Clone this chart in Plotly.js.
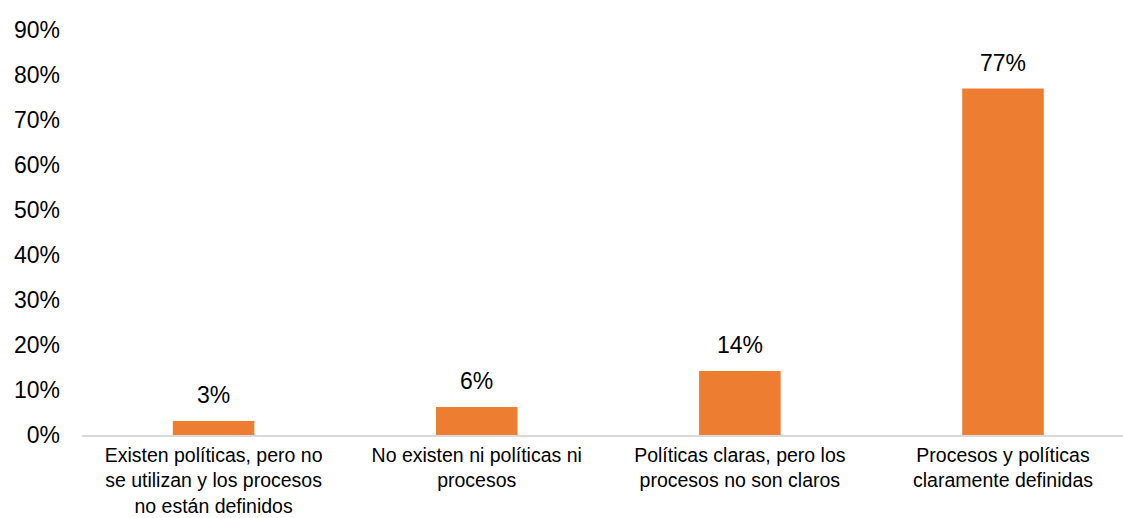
<!DOCTYPE html>
<html>
<head>
<meta charset="utf-8">
<script src="https://cdn.plot.ly/plotly-3.0.1.min.js"></script>
<style>html,body{margin:0;padding:0;background:#fff;}#chart{width:1123px;height:518px;}</style>
</head>
<body>
<div id="chart"></div>
<script>
const categories = [
  "Existen políticas, pero no<br>se utilizan y los procesos<br>no están definidos",
  "No existen ni políticas ni<br>procesos",
  "Políticas claras, pero los<br>procesos no son claros",
  "Procesos y políticas<br>claramente definidas"
];
const values = [3.1, 6.2, 14.2, 77.0];
const valueLabels = ["3%", "6%", "14%", "77%"];
const yTickVals = [0, 10, 20, 30, 40, 50, 60, 70, 80, 90];
const yTickText = ["0%", "10%", "20%", "30%", "40%", "50%", "60%", "70%", "80%", "90%"];

const FONT = "Liberation Sans, Arial, sans-serif";

const trace = {
  type: "bar",
  x: categories,
  y: values,
  marker: {color: "#ED7D31"},
  width: 0.31,
  hoverinfo: "none"
};

const annotations = categories.map((c, i) => ({
  x: c, y: values[i], text: valueLabels[i],
  xref: "x", yref: "y", showarrow: false,
  yanchor: "bottom", yshift: 11,
  font: {family: FONT, size: 23, color: "#000"}
}));

const layout = {
  width: 1123, height: 518,
  margin: {l: 82, r: 0, t: 30, b: 83},
  paper_bgcolor: "#fff", plot_bgcolor: "#fff",
  showlegend: false,
  font: {family: FONT, size: 20, color: "#000"},
  xaxis: {
    range: [-0.5, 3.456],
    showline: true, linecolor: "#D9D9D9", linewidth: 1.5,
    ticks: "", showgrid: false, zeroline: false,
    ticklabelstandoff: 2,
    tickfont: {family: FONT, size: 19.5, color: "#000"},
    fixedrange: true
  },
  yaxis: {
    range: [0, 90],
    tickvals: yTickVals, ticktext: yTickText,
    showline: false, showgrid: false, zeroline: false,
    ticks: "", ticklabelstandoff: 21,
    tickfont: {family: FONT, size: 23, color: "#000"},
    fixedrange: true
  },
  annotations: annotations
};

Plotly.newPlot("chart", [trace], layout, {displayModeBar: false, staticPlot: true});
</script>
</body>
</html>
